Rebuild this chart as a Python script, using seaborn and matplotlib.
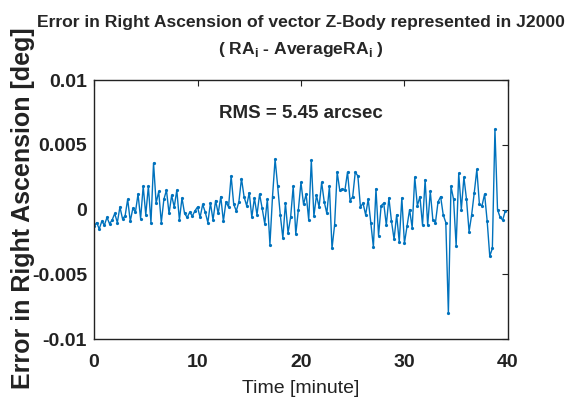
import numpy as np
import pandas as pd
import matplotlib
matplotlib.use("Agg")
import matplotlib.pyplot as plt
import seaborn as sns

# error in right ascension, milli-degrees, one sample every 0.25 minute
ra_error_mdeg = [
    -1.3, -1.0, -1.5, -0.9,   -1.2, -0.6, -1.1, -0.8,
    -0.3, -1.0, 0.2, -0.7,    -0.5, 0.8, -0.9, 0.1,
    -0.2, 1.2, -0.7, 1.8,     -0.4, 1.8, -1.0, 3.6,
    0.5, 1.4, -1.0, 0.8,      1.5, -0.3, 1.1, 0.2,
    1.5, -0.8, 0.9, -0.3,     -0.6, -0.2, -0.5, -0.1,
    0.2, -0.6, 0.4, -0.2,     -1.0, 0.5, -0.8, 0.7,
    -0.3, 1.0, -0.9, 0.6,     0.2, 2.6, 0.4, -0.1,
    0.6, 2.4, 1.0, 0.3,       1.3, -0.6, 0.9, -0.4,
    1.2, 0.1, -1.1, 0.8,      -2.7, 1.0, 3.9, 1.8,
    -0.4, -2.2, 0.5, -1.8,    -0.6, 1.8, -1.9, 0.0,
    2.1, 0.4, 1.2, -0.8,      3.8, -0.5, 1.1, 0.2,
    2.1, 0.6, -0.3, 1.8,      -3.0, -1.2, 2.9, 1.5,
    1.6, 1.5, 2.9, 0.7,       1.0, 2.9, 2.6, 0.2,
    0.5, -0.4, 0.8, -1.0,     -2.9, 1.6, -2.0, 0.3,
    0.5, -1.2, 0.9, -0.9,     -2.3, -0.4, -2.5, 0.9,
    -2.6, -1.3, 0.0, -1.4,    2.5, 0.3, 1.0, -1.2,
    2.3, -1.2, 1.4, -0.8,     -1.0, 0.6, 1.0, -0.4,
    -1.0, -8.0, 1.8, 0.8,     -2.8, 2.8, 0.0, 2.5,
    0.8, -1.7, -0.4, 1.3,     3.1, 0.4, 0.3, 1.2,
    -0.9, -3.6, -3.0, 6.2,    0.0, -0.6, -0.8, -0.1,
]
sample_step_min = 0.25

xticks = [0, 10, 20, 30, 40]
yticks = [-0.01, -0.005, 0, 0.005, 0.01]
ytick_labels = ["-0.01", "-0.005", "0", "0.005", "0.01"]

title_text = ("Error in Right Ascension of vector Z-Body represented in J2000\n"
              r"( RA$_{\mathbf{i}}$ - AverageRA$_{\mathbf{i}}$ )")
rms_text = "RMS = 5.45 arcsec"

df = pd.DataFrame({
    "time": np.arange(len(ra_error_mdeg)) * sample_step_min,
    "err": np.array(ra_error_mdeg) / 1000.0,
})

sns.set_style("white")
plt.rcParams["font.family"] = ["Liberation Sans", "DejaVu Sans"]
plt.rcParams["axes.unicode_minus"] = False
plt.rcParams["mathtext.fontset"] = "custom"
plt.rcParams["mathtext.rm"] = "Liberation Sans"
plt.rcParams["mathtext.bf"] = "Liberation Sans:bold"

fig = plt.figure(figsize=(5.7, 4.09), dpi=100)
ax = fig.add_axes([0.165, 0.171, 0.726, 0.633])

sns.lineplot(data=df, x="time", y="err", ax=ax, color="#0072BD",
             linewidth=1.0, marker="o", markersize=2.3, markeredgewidth=0)

ax.set_xlim(0, 40)
ax.set_ylim(-0.01, 0.01)
ax.set_xticks(xticks)
ax.set_yticks(yticks)
ax.set_yticklabels(ytick_labels)
ax.tick_params(direction="in", length=4, width=0.8, top=True, right=True,
               labelsize=14, colors="#222222")
ax.tick_params(axis="x", pad=11)
ax.tick_params(axis="y", pad=5)
for lab in ax.get_xticklabels() + ax.get_yticklabels():
    lab.set_fontweight("bold")
for sp in ax.spines.values():
    sp.set_color("#222222")
    sp.set_linewidth(1.0)

ax.set_xlabel("Time [minute]", fontsize=14, color="#222222", labelpad=6)
ax.set_ylabel("")
fig.text(0.04, 0.49, "Error in Right Ascension [deg]", rotation=90,
         ha="center", va="center", fontsize=18, fontweight="bold",
         color="#222222")
ax.set_title(title_text, fontsize=12.6, fontweight="bold", pad=19,
             linespacing=1.7, x=0.5)
ax.text(0.5, 0.873, rms_text, transform=ax.transAxes, ha="center",
        va="center", fontsize=13.5, fontweight="bold")

fig.savefig("out.png", dpi=100)
